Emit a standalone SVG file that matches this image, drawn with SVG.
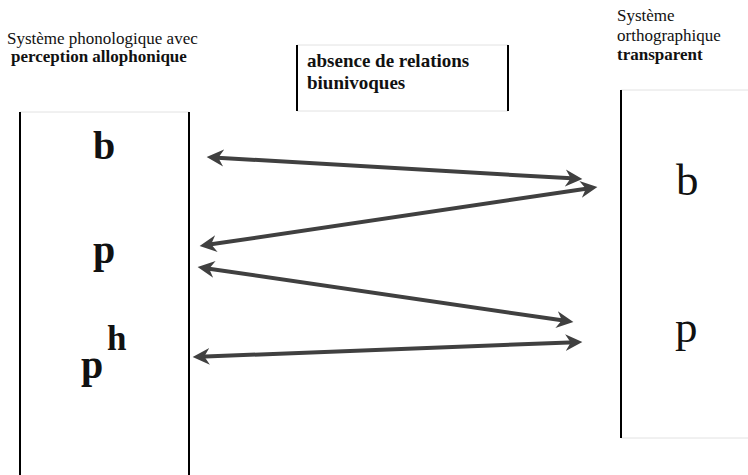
<svg xmlns="http://www.w3.org/2000/svg" width="748" height="475" viewBox="0 0 748 475">
<style>
.t{font-family:"Liberation Serif","Times New Roman",serif;fill:#111}
.b{font-weight:bold}
.edge{stroke:#e2e2e2;stroke-width:1;fill:none}
.side{stroke:#000;stroke-width:2}
.arr{stroke:#404040;stroke-width:4;fill:none;marker-start:url(#ah);marker-end:url(#ah)}
</style>
<defs>
<marker id="ah" markerUnits="userSpaceOnUse" markerWidth="18" markerHeight="18" viewBox="0 0 17 16" refX="10" refY="8" orient="auto-start-reverse">
<path d="M16,8 L0,0 L5,8 L0,16 Z" fill="#404040"/>
</marker>
</defs>
<rect width="748" height="475" fill="#fff"/>
<g id="left-box">
<line class="edge" x1="20" y1="112" x2="189" y2="112"/>
<line class="side" x1="20" y1="112" x2="20" y2="475"/>
<line class="side" x1="189" y1="112" x2="189" y2="475"/>
<text class="t" x="7" y="44" font-size="17">Système phonologique avec</text>
<text class="t b" x="11" y="62" font-size="17">perception allophonique</text>
<text class="t b" x="93" y="159" font-size="40">b</text>
<text class="t b" x="93" y="263" font-size="40">p</text>
<text class="t b" x="81" y="378" font-size="40">p</text>
<text class="t b" x="107" y="350" font-size="35">h</text>
</g>
<g id="middle-box">
<line class="edge" x1="297" y1="45" x2="508" y2="45"/>
<line class="edge" x1="297" y1="111" x2="508" y2="111"/>
<line class="side" x1="297" y1="45" x2="297" y2="111"/>
<line class="side" x1="508" y1="45" x2="508" y2="111"/>
<text class="t b" x="307" y="67" font-size="19">absence de relations</text>
<text class="t b" x="307" y="89" font-size="19">biunivoques</text>
</g>
<g id="right-box">
<line class="edge" x1="621" y1="90" x2="748" y2="90"/>
<line class="edge" x1="621" y1="438" x2="748" y2="438"/>
<line class="side" x1="621" y1="90" x2="621" y2="438"/>
<text class="t" x="617" y="21" font-size="17">Système</text>
<text class="t" x="617" y="41" font-size="17">orthographique</text>
<text class="t b" x="617" y="60" font-size="17">transparent</text>
<text class="t" x="676" y="195" font-size="45">b</text>
<text class="t" x="675" y="342" font-size="45">p</text>
</g>
<g id="connectors">
<line class="arr" x1="213" y1="157.4" x2="576" y2="178.6"/>
<line class="arr" x1="591.1" y1="187.9" x2="205.9" y2="245.1"/>
<line class="arr" x1="203.9" y1="267.9" x2="567.1" y2="321.1"/>
<line class="arr" x1="199" y1="356.8" x2="576" y2="342.2"/>
</g>
</svg>
